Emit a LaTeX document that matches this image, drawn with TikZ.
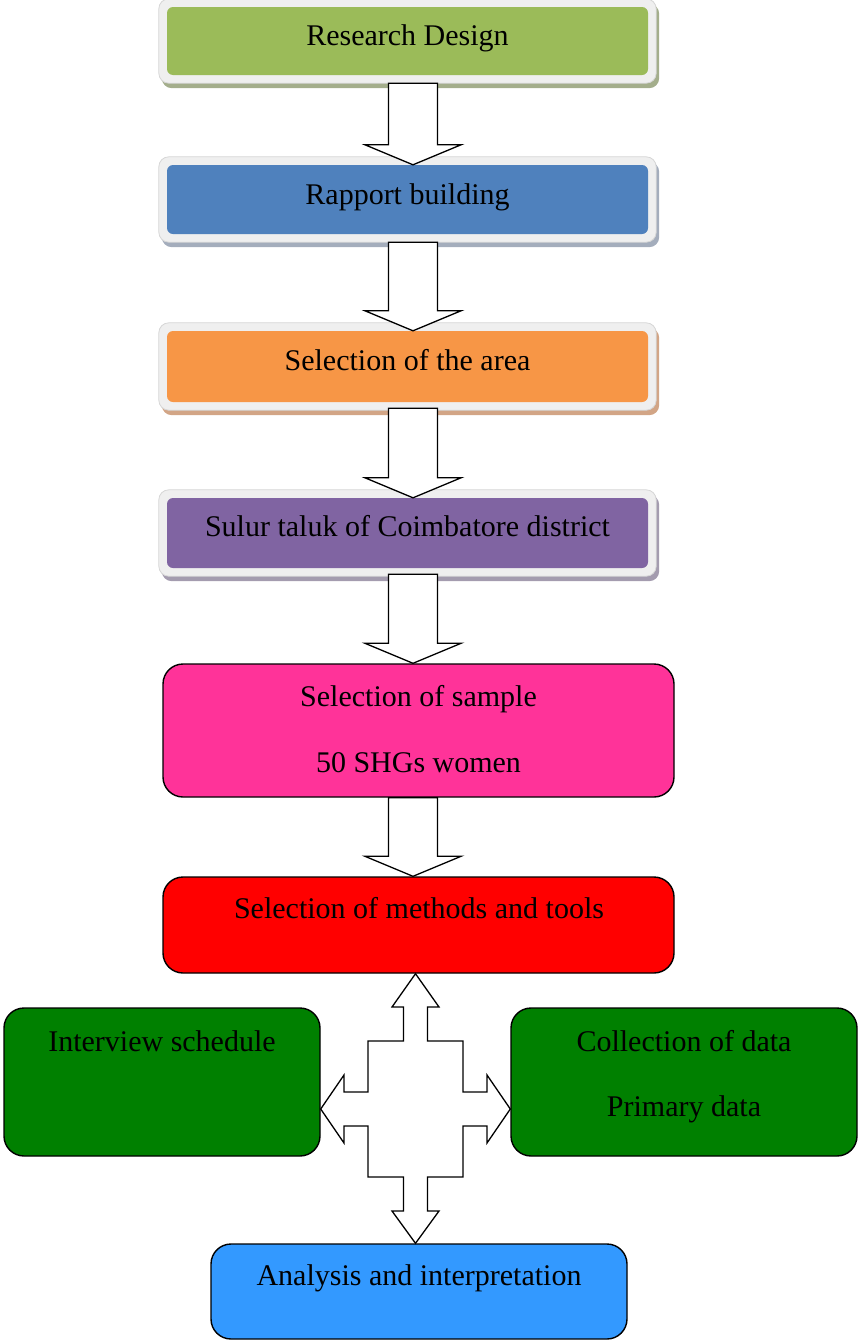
\documentclass[tikz,border=0pt]{standalone}
\usepackage{fontspec}
\setmainfont{Liberation Serif}
\usetikzlibrary{calc}
\pgfdeclarelayer{background}
\pgfsetlayers{background,main}
\definecolor{cGreenA}{HTML}{9BBB59}
\definecolor{cBlueA}{HTML}{4F81BD}
\definecolor{cOrange}{HTML}{F79646}
\definecolor{cPurple}{HTML}{8064A2}
\definecolor{cPink}{HTML}{FF3399}
\definecolor{cRed}{HTML}{FF0000}
\definecolor{cGreenB}{HTML}{008000}
\definecolor{cBlueB}{HTML}{3399FF}
\definecolor{frameFill}{HTML}{EFEFEF}
\definecolor{frameLine}{HTML}{D6D6D6}
\definecolor{shGreen}{HTML}{A4AE8C}
\definecolor{shBlue}{HTML}{A4ADBC}
\definecolor{shOrange}{HTML}{D2A586}
\definecolor{shPurple}{HTML}{A49CAF}
\tikzset{
  topbox/.style={rectangle, rounded corners=6pt, minimum width=481pt, inner sep=0pt, draw=none},
  lowbox/.style={rectangle, rounded corners=20pt, draw=black, line width=1.4pt, inner sep=0pt},
  txt/.style={font=\fontsize{30}{36}\selectfont, anchor=base, inner sep=0pt, text=black},
  blockarrow/.style={draw=black, fill=white, line width=1.3pt, line join=miter},
}
\newcommand\boxglow[2]{%
  \begin{pgfonlayer}{background}
    \fill[#2, rounded corners=10pt] ([shift={(-5pt,3pt)}]#1.north west) rectangle ([shift={(11pt,-13pt)}]#1.south east);
    \filldraw[fill=frameFill, draw=frameLine, line width=0.8pt, rounded corners=10pt] ([shift={(-8pt,8pt)}]#1.north west) rectangle ([shift={(8pt,-8pt)}]#1.south east);
  \end{pgfonlayer}}
\newcommand\downblock[3]{%
  \draw[blockarrow] let \p1=(#1.south), \p2=(#2.north) in
    (388.5pt,\y1-#3) -- (388.5pt,\y2+20pt) -- (365pt,\y2+20pt) -- (413pt,\y2)
    -- (461pt,\y2+20pt) -- (437.5pt,\y2+20pt) -- (437.5pt,\y1-#3) -- cycle;}
\begin{document}
\begin{tikzpicture}[x=1pt,y=-1pt]
\useasboundingbox (0,0) rectangle (858,1341);
% top framed boxes
\node[topbox, fill=cGreenA, minimum height=68pt] (b1) at (407.5,41) {};
\node[topbox, fill=cBlueA, minimum height=69pt] (b2) at (407.5,199.5) {};
\node[topbox, fill=cOrange, minimum height=71pt] (b3) at (407.5,366.5) {};
\node[topbox, fill=cPurple, minimum height=70pt] (b4) at (407.5,533) {};
\boxglow{b1}{shGreen}
\boxglow{b2}{shBlue}
\boxglow{b3}{shOrange}
\boxglow{b4}{shPurple}
% lower boxes
\node[lowbox, fill=cPink, minimum width=511pt, minimum height=133pt] (b6) at (418.5,730.5) {};
\node[lowbox, fill=cRed, minimum width=511pt, minimum height=96pt] (b7) at (418.5,925) {};
\node[lowbox, fill=cGreenB, minimum width=316pt, minimum height=148pt] (gl) at (162,1082) {};
\node[lowbox, fill=cGreenB, minimum width=346pt, minimum height=148pt] (gr) at (684,1082) {};
\node[lowbox, fill=cBlueB, minimum width=416pt, minimum height=95pt] (b10) at (419,1291.5) {};
% texts
\node[txt] (t1) at (407.5,45) {Research Design};
\node[txt] (t2) at (407.5,204) {Rapport building};
\node[txt] (t3) at (407.5,370) {Selection of the area};
\node[txt] (t4) at (407.5,536.5) {Sulur taluk of Coimbatore district};
\node[txt] (t6a) at (418.5,706) {Selection of sample};
\node[txt] (t6b) at (418.5,772) {50 SHGs women};
\node[txt] (t7) at (419,918) {Selection of methods and tools};
\node[txt] (tgl) at (162,1051.5) {Interview schedule};
\node[txt] (tgr1) at (684,1051.5) {Collection of data};
\node[txt] (tgr2) at (684,1116.5) {Primary data};
\node[txt] (t10) at (419,1285) {Analysis and interpretation};
% down arrows
\downblock{b1}{b2}{8pt}
\downblock{b2}{b3}{8pt}
\downblock{b3}{b4}{6pt}
\downblock{b4}{b6}{6pt}
\downblock{b6}{b7}{0pt}
% four-way arrow
\coordinate (qc) at (415.5,1109);
\draw[blockarrow] let \p5=(qc), \p1=(b7.south), \p2=(b10.north), \p3=(gl.east), \p4=(gr.west) in
  (\x5,\y1) -- (\x5+23.5pt,\y5+102pt) -- (\x5+12pt,\y5+102pt) -- (\x5+12pt,\y5+68pt)
  -- (\x5+47.5pt,\y5+68pt) -- (\x5+47.5pt,\y5+17pt) -- (\x5+71.5pt,\y5+17pt) -- (\x5+71.5pt,\y5+34pt)
  -- (\x4,\y5)
  -- (\x5+71.5pt,\y5-34pt) -- (\x5+71.5pt,\y5-17pt) -- (\x5+47.5pt,\y5-17pt) -- (\x5+47.5pt,\y5-68pt)
  -- (\x5+12pt,\y5-68pt) -- (\x5+12pt,\y5-102pt) -- (\x5+23.5pt,\y5-102pt)
  -- (\x5,\y2)
  -- (\x5-23.5pt,\y5-102pt) -- (\x5-12pt,\y5-102pt) -- (\x5-12pt,\y5-68pt)
  -- (\x5-47.5pt,\y5-68pt) -- (\x5-47.5pt,\y5-17pt) -- (\x5-71.5pt,\y5-17pt) -- (\x5-71.5pt,\y5-34pt)
  -- (\x3,\y5)
  -- (\x5-71.5pt,\y5+34pt) -- (\x5-71.5pt,\y5+17pt) -- (\x5-47.5pt,\y5+17pt) -- (\x5-47.5pt,\y5+68pt)
  -- (\x5-12pt,\y5+68pt) -- (\x5-12pt,\y5+102pt) -- (\x5-23.5pt,\y5+102pt) -- cycle;
\end{tikzpicture}
\end{document}
